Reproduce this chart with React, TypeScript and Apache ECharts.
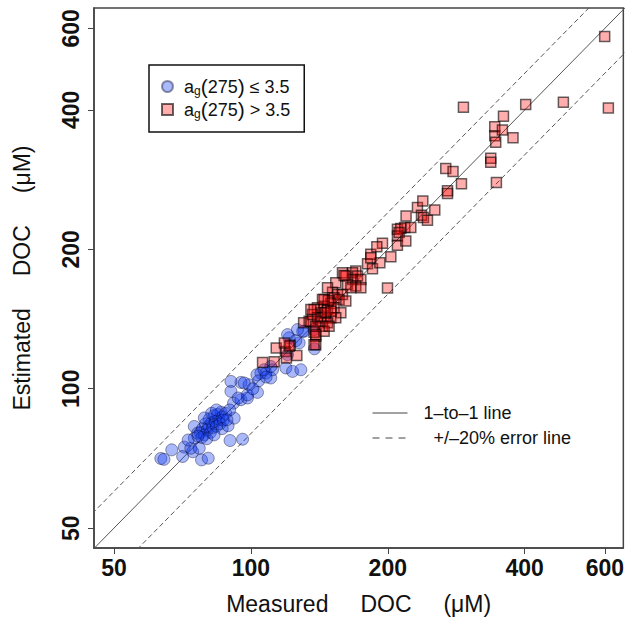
import React, { useEffect, useRef } from "react";
import * as echarts from "echarts";

// ---- data (µM) ----
const tickValues = [50, 100, 200, 400, 600];

const lowName = "a_g(275) ≤ 3.5";
const highName = "a_g(275) > 3.5";
const oneToOneName = "1–to–1 line";
const errorName = "+/–20% error line";

// a_g(275) <= 3.5 : [measured, estimated]
const lowPoints: number[][] = [
  [63.4, 70.7], [64.4, 70.4], [67.0, 73.8], [71.4, 74.8], [70.8, 71.4], [74.5, 73.1],
  [73.8, 74.4], [75.1, 82.9], [75.1, 78.2], [77.9, 70.2], [80.6, 70.8], [77.0, 74.4],
  [72.8, 77.5], [76.4, 80.2],
  [77.5, 80.5], [78.3, 82.0], [79.0, 79.5], [79.5, 84.0], [80.2, 81.5], [80.8, 83.0],
  [81.0, 86.0], [81.5, 80.5], [82.0, 84.5], [82.5, 82.5], [83.0, 87.5], [83.5, 85.0],
  [84.0, 83.0], [84.5, 88.0], [85.0, 86.0], [85.5, 84.0], [86.0, 89.0], [86.5, 87.0],
  [87.0, 85.5], [79.0, 86.5], [82.0, 88.5], [84.0, 90.0], [78.0, 78.5], [80.0, 78.0],
  [86.5, 82.0], [88.0, 88.5], [76.5, 79.0], [83.0, 79.5],
  [90.0, 77.3], [95.9, 77.8], [89.1, 83.2], [91.9, 86.4], [91.6, 93.1], [95.1, 94.7],
  [98.3, 95.5], [90.4, 98.7], [95.1, 103.2], [90.4, 103.7], [99.1, 102.0], [103.4, 98.2],
  [105.2, 108.1], [107.9, 108.1], [110.6, 105.5], [111.6, 109.9], [119.4, 110.9],
  [123.5, 109.0], [128.8, 109.9], [121.4, 128.8], [127.7, 125.6], [131.0, 133.1],
  [120.4, 118.5], [138.0, 122.0], [130.0, 133.1], [103.1, 107.2], [110.6, 111.7],
  [106.9, 109.9], [93.8, 95.5], [96.7, 102.9], [98.3, 97.0], [120.4, 130.9],
  [126.6, 134.2], [137.7, 134.2], [125.5, 127.0], [89.8, 90.0], [88.6, 85.7],
  [104.0, 104.0], [101.0, 100.0], [108.0, 106.0],
];

// a_g(275) > 3.5 : [measured, estimated]
const highPoints: number[][] = [
  [106.1, 114.0], [112.5, 114.3], [113.7, 122.5], [119.1, 120.4], [122.1, 124.2],
  [126.2, 117.9], [119.7, 116.5], [130.6, 138.8], [138.9, 124.5], [138.9, 129.8],
  [134.3, 139.9], [137.7, 132.4], [135.5, 139.9], [121.4, 123.5], [118.5, 125.5],
  [151.2, 161.6], [155.1, 159.8], [159.0, 159.8], [152.4, 157.2], [156.3, 155.9],
  [161.7, 154.6], [144.9, 155.9], [149.9, 152.8], [144.9, 150.7], [140.1, 149.5],
  [142.5, 145.9], [147.4, 148.3], [152.4, 149.5], [157.7, 145.9], [137.7, 148.3],
  [136.6, 144.6], [140.1, 142.3], [144.9, 142.3], [149.9, 142.3], [153.7, 142.3],
  [142.5, 139.9], [147.4, 138.8], [143.7, 136.4], [138.9, 136.4], [144.9, 133.1],
  [138.9, 130.9], [137.7, 124.5], [146.0, 146.0], [150.0, 147.0], [148.0, 155.0],
  [159.0, 178.0], [153.7, 169.4], [147.4, 165.2], [135.5, 148.3], [143.7, 155.9],
  [148.6, 136.4],
  [170.1, 179.5], [167.3, 178.0], [171.6, 175.1], [167.3, 172.2], [174.5, 172.2],
  [161.7, 175.1], [163.1, 168.0], [170.1, 166.6], [174.5, 165.2], [165.9, 165.2],
  [160.3, 175.7], [199.7, 165.1], [180.5, 186.2], [185.1, 181.7], [192.1, 187.2],
  [183.5, 195.1], [183.5, 191.9], [203.1, 192.7], [194.7, 206.1], [189.2, 202.7],
  [210.0, 221.0], [213.6, 221.8], [218.0, 222.9], [224.7, 222.9], [210.0, 213.7],
  [211.8, 217.4], [210.0, 204.0], [219.1, 208.5], [219.4, 236.2], [232.4, 246.2],
  [238.8, 254.4], [253.7, 243.3], [237.2, 237.0], [239.6, 234.3], [244.5, 231.2],
  [270.6, 267.5], [270.6, 264.1], [268.2, 299.1], [278.3, 294.6], [290.4, 277.0],
  [293.3, 405.4], [346.6, 278.9], [336.8, 314.4], [336.8, 308.2], [343.7, 368.0],
  [343.7, 351.9], [345.4, 340.5], [357.3, 362.0], [359.2, 387.6], [377.0, 348.4],
  [402.0, 410.7], [486.5, 415.7], [610.9, 404.0], [599.6, 576.5],
];

// reference lines: y = x, y = 1.2x, y = 0.8x
const lineEnds = [40, 700];
const errorFactors = [1.2, 0.8];

const FONT = "'Liberation Sans', Arial, Helvetica, sans-serif";
const NB = "\u00A0";

export default function App() {
  const ref = useRef<HTMLDivElement>(null);

  useEffect(() => {
    if (!ref.current) return;
    const chart = echarts.init(ref.current, undefined, { renderer: "svg" });

    const richLegend = (name: string) => {
      if (name === lowName) return "{a|a}{s|g}{p|(}{a|275}{p|)}{a| ≤ 3.5}";
      if (name === highName) return "{a|a}{s|g}{p|(}{a|275}{p|)}{a| > 3.5}";
      return name;
    };

    const option: any = {
      animation: false,
      backgroundColor: "#ffffff",
      textStyle: { fontFamily: FONT },
      grid: {
        left: 94,
        top: 8,
        width: 529.5,
        height: 540,
        show: true,
        borderColor: "#444",
        borderWidth: 1.5,
        backgroundColor: "transparent",
      },
      xAxis: {
        type: "log",
        logBase: 10,
        min: 45.2,
        max: 659,
        name: `Measured${NB.repeat(5)}DOC${NB.repeat(5)}(μM)`,
        nameLocation: "middle",
        nameGap: 44,
        nameTextStyle: { fontSize: 23, color: "#111", fontFamily: FONT },
        axisLine: { show: true, lineStyle: { color: "#444", width: 1.5 } },
        axisTick: { show: true, length: 6, customValues: tickValues, lineStyle: { color: "#444" } },
        axisLabel: {
          customValues: tickValues,
          fontSize: 23,
          fontWeight: "bold",
          color: "#111",
          margin: 8,
          fontFamily: FONT,
        },
        splitLine: { show: false },
        minorTick: { show: false },
      },
      yAxis: {
        type: "log",
        logBase: 10,
        min: 45.3,
        max: 664,
        name: `Estimated${NB.repeat(5)}DOC${NB.repeat(5)}(μM)`,
        nameLocation: "middle",
        nameGap: 61,
        nameTextStyle: { fontSize: 23, color: "#111", fontFamily: FONT },
        axisLine: { show: true, lineStyle: { color: "#444", width: 1.5 } },
        axisTick: { show: true, length: 6, customValues: tickValues, lineStyle: { color: "#444" } },
        axisLabel: {
          customValues: tickValues,
          rotate: 90,
          fontSize: 23,
          fontWeight: "bold",
          color: "#111",
          margin: 12,
          fontFamily: FONT,
        },
        splitLine: { show: false },
        minorTick: { show: false },
      },
      legend: [
        {
          orient: "vertical",
          left: 149,
          top: 65,
          padding: [11, 14, 12, 12],
          borderColor: "#111",
          borderWidth: 1.5,
          itemWidth: 11,
          itemHeight: 11,
          itemGap: 2,
          data: [
            { name: lowName, icon: "circle" },
            { name: highName, icon: "rect" },
          ],
          formatter: richLegend,
          textStyle: {
            padding: [0, 0, 0, 6],
            rich: {
              a: { fontSize: 18, fontFamily: FONT, color: "#111", lineHeight: 21 },
              p: { fontSize: 21, fontFamily: FONT, color: "#111", lineHeight: 21 },
              s: { fontSize: 12, fontFamily: FONT, color: "#111", padding: [9, 0, 0, 0] },
            },
          },
          selectedMode: false,
        },
        {
          orient: "vertical",
          left: 372,
          top: 403,
          padding: 0,
          itemWidth: 35,
          itemHeight: 8,
          itemGap: 5,
          data: [
            { name: oneToOneName },
            { name: errorName, lineStyle: { type: [7, 6] } },
          ],
          formatter: (name: string) => (name === errorName ? NB + NB + name : name),
          itemStyle: { opacity: 0, color: "transparent", borderColor: "transparent", borderWidth: 0 },
          lineStyle: { color: "#444", width: 1 },
          textStyle: { fontSize: 18, color: "#111", fontFamily: FONT, padding: [0, 0, 0, 11], lineHeight: 20 },
          selectedMode: false,
        },
      ],
      series: [
        {
          name: oneToOneName,
          type: "line",
          data: lineEnds.map((v) => [v, v]),
          symbol: "none",
          silent: true,
          color: "#555",
          lineStyle: { color: "#555", width: 1, type: "solid" },
          z: 1,
        },
        ...errorFactors.map((f) => ({
          name: errorName,
          type: "line",
          data: lineEnds.map((v) => [v, v * f]),
          symbol: "none",
          silent: true,
          color: "#555",
          lineStyle: { color: "#555", width: 1, type: [5, 3] },
          z: 1,
        })),
        {
          name: lowName,
          type: "scatter",
          data: lowPoints,
          symbol: "circle",
          symbolSize: 12,
          itemStyle: {
            color: "rgba(20,60,240,0.45)",
            borderColor: "rgba(0,0,40,0.5)",
            borderWidth: 1,
          },
          z: 2,
        },
        {
          name: highName,
          type: "scatter",
          data: highPoints,
          symbol: "rect",
          symbolSize: 10,
          itemStyle: {
            color: "rgba(255,0,0,0.4)",
            borderColor: "rgba(0,0,0,0.75)",
            borderWidth: 1.5,
          },
          z: 3,
        },
      ],
    };

    chart.setOption(option);
    return () => chart.dispose();
  }, []);

  return (
    <div
      ref={ref}
      style={{ position: "fixed", left: 0, top: 0, width: 627, height: 623, background: "#fff" }}
    />
  );
}
